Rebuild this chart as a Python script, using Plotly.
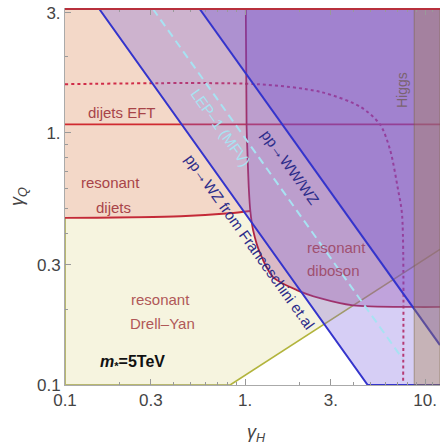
import math
import plotly.graph_objects as go

# ---------------- axis / tick data ----------------
X_MIN, X_MAX = 0.1, 12.1
Y_MIN, Y_MAX = 0.1, 3.1
x_ticks = [0.1, 0.3, 1, 3, 10]
x_ticklabels = ["0.1", "0.3", "1.", "3.", "10."]
y_ticks = [0.1, 0.3, 1, 3]
y_ticklabels = ["0.1", "0.3", "1.", "3."]
x_minor = [0.2, 0.4, 0.5, 0.6, 0.7, 0.8, 0.9, 2, 4, 5, 6, 7, 8, 9, 11, 12]
y_minor = [0.2, 0.4, 0.5, 0.6, 0.7, 0.8, 0.9, 2]

# ---------------- curves ----------------
# Drell-Yan boundary (olive line)
dy_x = [0.826, 3.0, 12.1]
dy_y = [0.1, 0.181, 0.345]
# resonant dijets boundary
dijets_x = [0.1, 0.44, 0.82, 1.07]
dijets_y = [0.46, 0.467, 0.48, 0.49]
# resonant diboson boundary
dib_x = [1.01, 1.02, 1.03, 1.05, 1.07, 1.11, 1.21, 1.43, 1.94, 2.61, 3.98, 8.58, 12.1]
dib_y = [3.1, 1.08, 0.86, 0.6, 0.49, 0.41, 0.334, 0.268, 0.238, 0.221, 0.207, 0.204, 0.204]
# dijets EFT bound
eft_y = 1.08
# dotted bound
dot_x = [0.1, 1.17, 2.61, 4.36, 5.62, 6.39, 7.08, 7.45, 7.55]
dot_y = [1.56, 1.56, 1.455, 1.27, 1.08, 0.857, 0.594, 0.473, 0.1]
# pp -> WZ (Franceschini et al.)
wz_x = [0.155, 4.8, 12.1]
wz_y = [3.1, 0.1, 0.1]
# pp -> WW/WZ
ww_x = [0.56, 12.1]
ww_y = [3.1, 0.144]
# LEP-1 (MFV)
lep_x = [0.308, 7.5]
lep_y = [3.1, 0.127]
# Higgs
higgs_x = 8.7

fig = go.Figure()


def fill(xs, ys, color, line_color=None, lw=0):
    fig.add_trace(go.Scatter(
        x=xs, y=ys, mode="lines", fill="toself", fillcolor=color,
        line=dict(width=lw, color=line_color or color),
        hoverinfo="skip", showlegend=False))


def line(xs, ys, color, width=1.8, dash="solid", shape="linear"):
    fig.add_trace(go.Scatter(
        x=xs, y=ys, mode="lines",
        line=dict(color=color, width=width, dash=dash, shape=shape, smoothing=0.8),
        hoverinfo="skip", showlegend=False))


# base: Drell-Yan (cream)
fill([X_MIN] + dy_x + [X_MAX, X_MIN], [Y_MIN] + dy_y + [Y_MAX, Y_MAX], "#f6f4df")
# dijets (peach)
pk_x = dijets_x + [1.05, 1.03, 1.02, 1.01, X_MIN]
pk_y = dijets_y + [0.6, 0.86, 1.08, 3.1, Y_MAX]
fill(pk_x, pk_y, "#f3d8c8")

# boundary lines under the overlays
line(dy_x, dy_y, "#b2b43c", 1.6)
line([X_MIN, X_MIN, dy_x[0]], [0.46, Y_MIN, Y_MIN], "#b8b870", 2.0)
line(dijets_x, dijets_y, "#c42a38", 1.8, shape="spline")
line([X_MIN, X_MAX], [eft_y, eft_y], "#d02a30", 1.8)
line(dot_x, dot_y, "#d02c48", 2.0, dash="dot", shape="spline")
line(dib_x, dib_y, "#b02038", 1.8, shape="spline")

# diboson overlay
fill(dib_x + [X_MAX, dib_x[0]], dib_y + [Y_MAX, Y_MAX], "rgba(160,70,150,0.33)")
# pp -> WZ band
fill(wz_x + [X_MAX], wz_y + [Y_MAX], "rgba(118,92,222,0.30)")
# pp -> WW/WZ band
fill(ww_x + [X_MAX], ww_y + [Y_MAX], "rgba(98,66,212,0.30)")

line(wz_x, wz_y, "#3434cc", 2.0)
line(ww_x, ww_y, "#3434cc", 2.0)
line(lep_x, lep_y, "#a8e2f2", 2.0, dash="8px,5px")

# Higgs band
fill([higgs_x, X_MAX, X_MAX, higgs_x, higgs_x], [Y_MIN, Y_MIN, Y_MAX, Y_MAX, Y_MIN],
     "rgba(169,128,70,0.35)", line_color="rgba(120,100,60,0.5)", lw=1)

# ---------------- text ----------------
FONT = "Liberation Sans, Arial, sans-serif"
ANG = 54.5


def P(px, py):
    return (px - 65) / 375.0, (385 - py) / 376.0


def label(text, px, py, color, size=15, angle=0):
    xp, yp = P(px, py)
    fig.add_annotation(x=xp, y=yp, xref="paper", yref="paper", text=text,
                       showarrow=False, textangle=angle,
                       font=dict(family=FONT, size=size, color=color),
                       xanchor="center", yanchor="middle")


label("dijets EFT", 122, 113, "#a84448")
label("resonant", 110, 182, "#a84448")
label("dijets", 113, 207, "#a84448")
label("resonant", 160, 299, "#b05858")
label("Drell–Yan", 162, 323, "#b05858")
label("<b><i>m</i><sub>*</sub>=5TeV</b>", 132, 362, "#111111", size=16)
label("resonant", 336, 247, "#a05070")
label("diboson", 333, 270, "#a05070")
label("Higgs", 402, 90, "#7a6470", size=14, angle=-90)
label("LEP–1 (MFV)", 221, 127, "#a8e2f2", angle=ANG)
label("pp→WW/WZ", 291, 167, "#2c2c8a", angle=ANG)
label("pp→WZ from Franceschini et.al", 250, 241, "#2c2c8a", angle=ANG)
label("<i>γ<sub>H</sub></i>", 256, 433, "#444444", size=18)
label("<i>γ<sub>Q</sub></i>", 18, 197, "#444444", size=18, angle=-90)

fig.update_layout(
    width=440, height=447,
    margin=dict(l=65, r=0, t=9, b=62),
    paper_bgcolor="white", plot_bgcolor="white",
    xaxis=dict(type="log", range=[math.log10(X_MIN), math.log10(X_MAX)],
               tickvals=x_ticks, ticktext=x_ticklabels,
               ticks="inside", ticklen=6, tickcolor="#999999",
               showline=True, linecolor="#aaaaaa", linewidth=1,
               mirror="ticks", showgrid=False, zeroline=False,
               tickfont=dict(family=FONT, size=17, color="#444444"),
               minor=dict(tickvals=x_minor, ticks="inside", ticklen=3, tickcolor="#999999")),
    yaxis=dict(type="log", range=[math.log10(Y_MIN), math.log10(Y_MAX)],
               tickvals=y_ticks, ticktext=y_ticklabels,
               ticks="inside", ticklen=6, tickcolor="#999999",
               showline=True, linecolor="#aaaaaa", linewidth=1,
               showgrid=False, zeroline=False,
               tickfont=dict(family=FONT, size=17, color="#444444"),
               minor=dict(tickvals=y_minor, ticks="inside", ticklen=3, tickcolor="#999999")),
    shapes=[dict(type="line", xref="paper", yref="paper", x0=0, x1=1, y0=1, y1=1,
                 line=dict(color="#b8303c", width=2), layer="above")],
)

fig.write_html("out.html")
